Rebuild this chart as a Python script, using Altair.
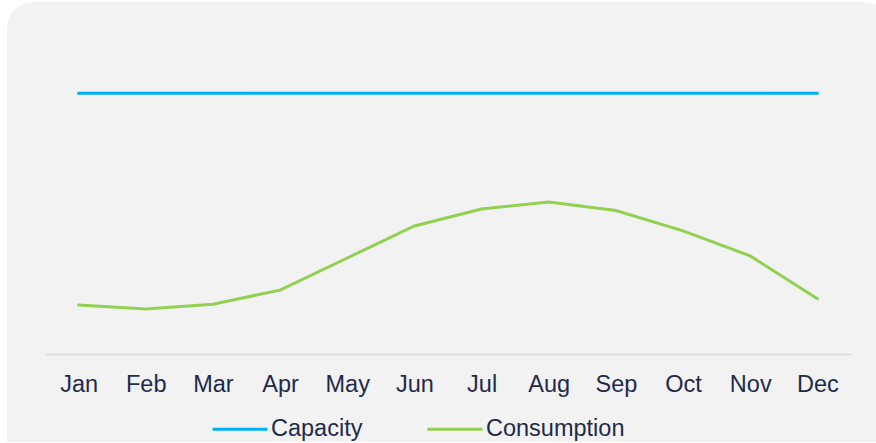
import altair as alt
import pandas as pd

months = ["Jan", "Feb", "Mar", "Apr", "May", "Jun", "Jul", "Aug", "Sep", "Oct", "Nov", "Dec"]
capacity = [100] * 12
consumption = [18.8, 17.3, 19.1, 24.5, 36.8, 49.1, 55.6, 58.3, 55.0, 47.2, 37.6, 21.2]
series = ["Capacity", "Consumption"]
colors = ["#00b0f0", "#92d050"]

rows = []
for m, c, u in zip(months, capacity, consumption):
    rows.append({"Month": m, "Series": "Capacity", "Value": c})
    rows.append({"Month": m, "Series": "Consumption", "Value": u})
df = pd.DataFrame(rows)

FONT = "Liberation Sans"
TEXT = "#1f2a4a"
FS = 23.5

panel = alt.Chart(pd.DataFrame({"a": [0]})).mark_rect(
    fill="#f2f2f2", cornerRadiusTopLeft=26, cornerRadiusTopRight=26
).encode(
    x=alt.value(-38), x2=alt.value(846), y=alt.value(-39), y2=alt.value(401)
)

lines = alt.Chart(df).mark_line(strokeWidth=3, strokeCap="round").encode(
    x=alt.X("Month:N", sort=months, scale=alt.Scale(type="point", padding=0.5),
            axis=alt.Axis(title=None, labelAngle=0, ticks=False, domainColor="#d9d9d9",
                          domainWidth=1.5, labelFont=FONT, labelFontSize=FS,
                          labelColor=TEXT, labelPadding=18, grid=False, zindex=1)),
    y=alt.Y("Value:Q", scale=alt.Scale(domain=[0, 120]), axis=None),
    color=alt.Color("Series:N", sort=series,
                    scale=alt.Scale(domain=series, range=colors),
                    legend=alt.Legend(title=None, orient="none", direction="horizontal",
                                      legendX=166, legendY=359,
                                      symbolType="stroke", symbolSize=3025,
                                      symbolStrokeWidth=3, labelFont=FONT,
                                      labelFontSize=FS, labelColor=TEXT,
                                      labelOffset=2, columnPadding=58, zindex=1)),
)

chart = alt.layer(panel, lines).properties(
    width=806, height=313,
    autosize=alt.AutoSizeParams(type="none"),
    padding={"left": 45, "top": 41, "right": 25, "bottom": 89},
    background="white",
).configure_view(stroke=None)

chart.save("out.html", embed_options={"renderer": "svg", "actions": False})
